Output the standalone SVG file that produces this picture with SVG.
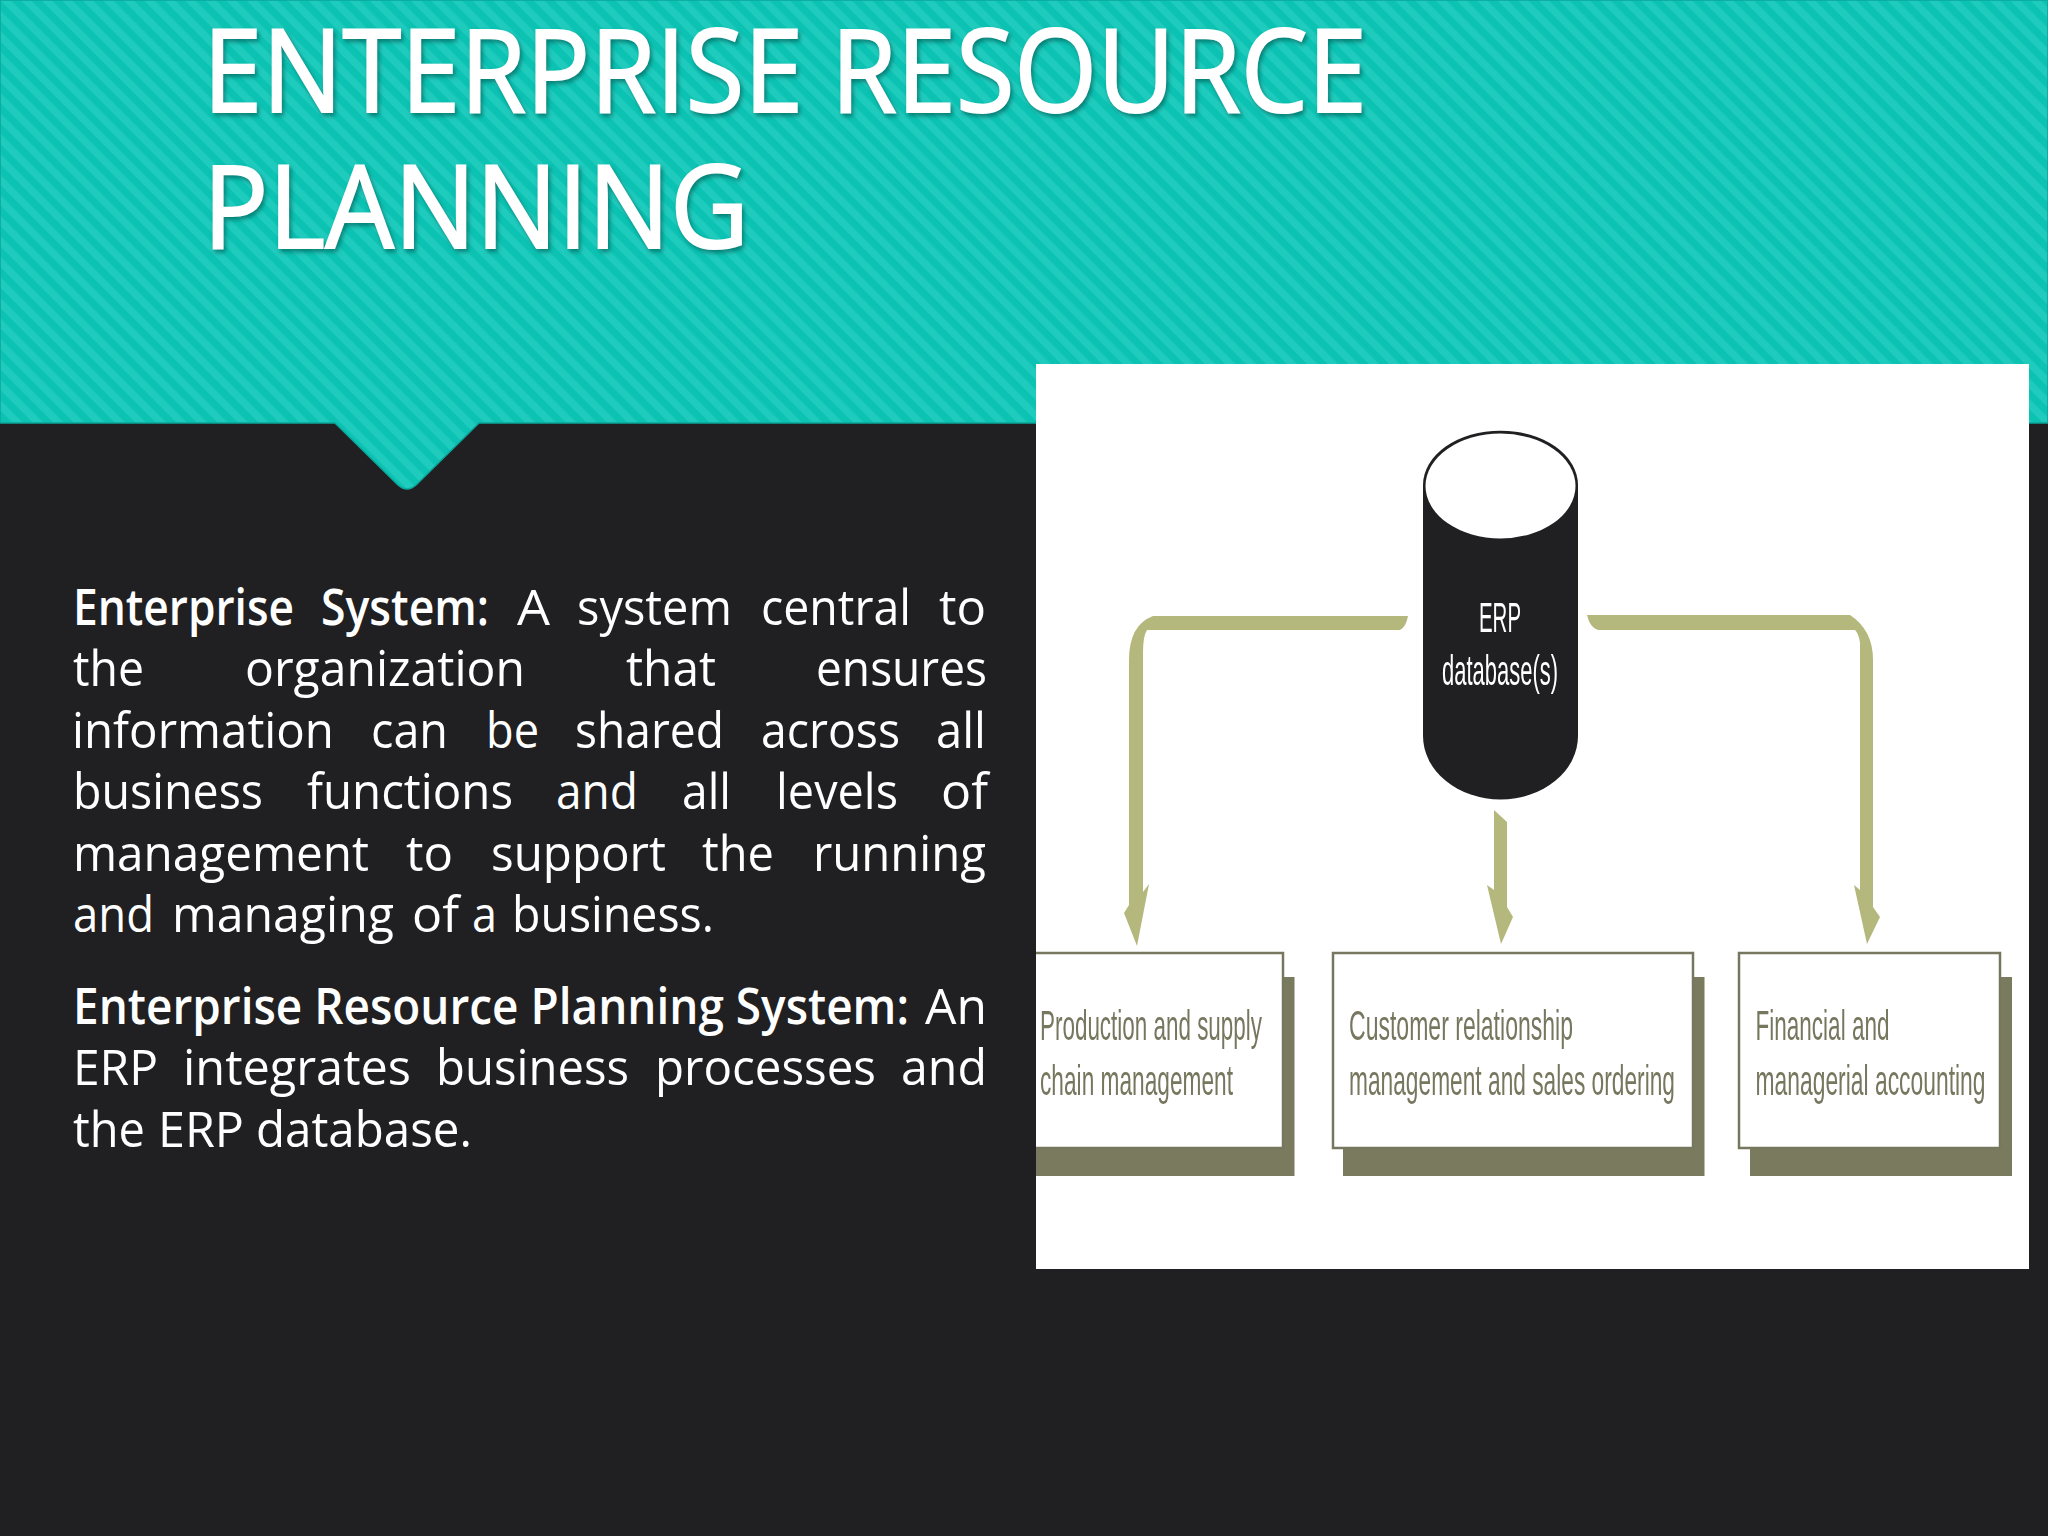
<svg xmlns="http://www.w3.org/2000/svg" width="2048" height="1536" viewBox="0 0 2048 1536">
<style>
.body{font-family:"Open Sans","Noto Sans",sans-serif;font-size:50px;fill:#fff}
.b{font-weight:600}
.title{font-family:"Open Sans","Noto Sans",sans-serif;font-size:116px;fill:#fff;stroke:#fff;stroke-width:2px;filter:drop-shadow(2px 3px 2px rgba(0,70,65,.55))}
.lbl{font-family:"Liberation Sans",Arial,sans-serif;font-size:42px;fill:#77775f;filter:url(#soft)}
.cyl{font-family:"Liberation Sans",Arial,sans-serif;font-size:42px;fill:#fff;filter:url(#soft)}
.box{fill:#fff;stroke:#77775f;stroke-width:2.5}
.shadow{fill:#7a7a5e}
.conn{fill:#b5b87c}
</style>
<defs>
<pattern id="stripes" width="14.5" height="14.5" patternUnits="userSpaceOnUse" patternTransform="rotate(-45)">
<rect width="14.5" height="14.5" fill="#0cc3b3"/>
<rect width="7.25" height="14.5" fill="#1fcbbd"/>
</pattern>
<filter id="soft" x="-5%" y="-20%" width="110%" height="140%"><feGaussianBlur stdDeviation="0.5"/></filter>
</defs>
<rect width="2048" height="1536" fill="#201f22"/>
<path d="M0 0H2048V423H479L416 485Q407 493 398 485L335 423H0Z" fill="url(#stripes)" stroke="#0aa699" stroke-width="1.5"/>
<text class="title" x="203" y="112" textLength="1164" lengthAdjust="spacingAndGlyphs">ENTERPRISE RESOURCE</text>
<text class="title" x="203" y="248" textLength="546" lengthAdjust="spacingAndGlyphs">PLANNING</text>

<g id="body-text" class="body">
<text y="625"><tspan class="b" x="73" textLength="221" lengthAdjust="spacingAndGlyphs">Enterprise</tspan> <tspan class="b" x="321" textLength="168" lengthAdjust="spacingAndGlyphs">System:</tspan> <tspan x="517" textLength="33" lengthAdjust="spacingAndGlyphs">A</tspan> <tspan x="577" textLength="155" lengthAdjust="spacingAndGlyphs">system</tspan> <tspan x="761" textLength="150" lengthAdjust="spacingAndGlyphs">central</tspan> <tspan x="939" textLength="47" lengthAdjust="spacingAndGlyphs">to</tspan></text>
<text y="686.4"><tspan x="73" textLength="71" lengthAdjust="spacingAndGlyphs">the</tspan> <tspan x="245" textLength="280" lengthAdjust="spacingAndGlyphs">organization</tspan> <tspan x="626" textLength="90" lengthAdjust="spacingAndGlyphs">that</tspan> <tspan x="816" textLength="171" lengthAdjust="spacingAndGlyphs">ensures</tspan></text>
<text y="747.8"><tspan x="72" textLength="262" lengthAdjust="spacingAndGlyphs">information</tspan> <tspan x="371" textLength="77" lengthAdjust="spacingAndGlyphs">can</tspan> <tspan x="486" textLength="53" lengthAdjust="spacingAndGlyphs">be</tspan> <tspan x="575" textLength="149" lengthAdjust="spacingAndGlyphs">shared</tspan> <tspan x="761" textLength="139" lengthAdjust="spacingAndGlyphs">across</tspan> <tspan x="936" textLength="50" lengthAdjust="spacingAndGlyphs">all</tspan></text>
<text y="809.2"><tspan x="73" textLength="190" lengthAdjust="spacingAndGlyphs">business</tspan> <tspan x="307" textLength="206" lengthAdjust="spacingAndGlyphs">functions</tspan> <tspan x="556" textLength="82" lengthAdjust="spacingAndGlyphs">and</tspan> <tspan x="682" textLength="49" lengthAdjust="spacingAndGlyphs">all</tspan> <tspan x="776" textLength="122" lengthAdjust="spacingAndGlyphs">levels</tspan> <tspan x="941" textLength="47" lengthAdjust="spacingAndGlyphs">of</tspan></text>
<text y="870.6"><tspan x="73" textLength="296" lengthAdjust="spacingAndGlyphs">management</tspan> <tspan x="406" textLength="47" lengthAdjust="spacingAndGlyphs">to</tspan> <tspan x="491" textLength="175" lengthAdjust="spacingAndGlyphs">support</tspan> <tspan x="702" textLength="72" lengthAdjust="spacingAndGlyphs">the</tspan> <tspan x="813" textLength="173" lengthAdjust="spacingAndGlyphs">running</tspan></text>
<text y="932"><tspan x="73" textLength="81" lengthAdjust="spacingAndGlyphs">and</tspan> <tspan x="172" textLength="222" lengthAdjust="spacingAndGlyphs">managing</tspan> <tspan x="412" textLength="47" lengthAdjust="spacingAndGlyphs">of</tspan> <tspan x="472" textLength="25" lengthAdjust="spacingAndGlyphs">a</tspan> <tspan x="512" textLength="202" lengthAdjust="spacingAndGlyphs">business.</tspan></text>
<text y="1024"><tspan class="b" x="73" textLength="836" lengthAdjust="spacingAndGlyphs">Enterprise Resource Planning System:</tspan> <tspan x="925" textLength="62" lengthAdjust="spacingAndGlyphs">An</tspan></text>
<text y="1085.4"><tspan x="73" textLength="85" lengthAdjust="spacingAndGlyphs">ERP</tspan> <tspan x="183" textLength="228" lengthAdjust="spacingAndGlyphs">integrates</tspan> <tspan x="436" textLength="193" lengthAdjust="spacingAndGlyphs">business</tspan> <tspan x="655" textLength="221" lengthAdjust="spacingAndGlyphs">processes</tspan> <tspan x="901" textLength="86" lengthAdjust="spacingAndGlyphs">and</tspan></text>
<text y="1146.8"><tspan x="73" textLength="72" lengthAdjust="spacingAndGlyphs">the</tspan> <tspan x="158" textLength="86" lengthAdjust="spacingAndGlyphs">ERP</tspan> <tspan x="256" textLength="216" lengthAdjust="spacingAndGlyphs">database.</tspan></text>
</g>

<rect id="panel" x="1036" y="364" width="993" height="905" fill="#fff"/>

<g id="connectors" class="conn">
<path d="M1408 616Q1406 627 1400 630H1147Q1143 636 1143 653V892L1149 884L1137 946L1124 913L1129 905V660Q1129 625 1153 616Z"/>
<path d="M1494 810L1507 822V907L1513 917L1501 944L1487 885L1494 890Z"/>
<path d="M1587 615H1850Q1873 630 1873 660V907L1880 917L1867 944L1854 885L1860 890V643Q1859 634 1855 630H1598Q1590 628 1587 615Z"/>
</g>

<g id="node-database">
<path d="M1423 485A77 54 0 0 1 1578 485V736A77 63 0 0 1 1423 736Z" fill="#201f22"/>
<ellipse cx="1500.5" cy="486" rx="75" ry="52.500" fill="#fff"/>
<text class="cyl" x="1479" y="632" textLength="42" lengthAdjust="spacingAndGlyphs">ERP</text>
<text class="cyl" x="1442" y="685" textLength="116" lengthAdjust="spacingAndGlyphs">database(s)</text>
</g>

<g id="node-production">
<rect class="shadow" x="1036" y="977" width="258.500" height="199"/>
<path class="box" d="M1036 953H1283V1148H1036"/>
<text class="lbl" x="1040" y="1040" textLength="222" lengthAdjust="spacingAndGlyphs">Production and supply</text>
<text class="lbl" x="1040" y="1095" textLength="193" lengthAdjust="spacingAndGlyphs">chain management</text>
</g>
<g id="node-customer">
<rect class="shadow" x="1343" y="977" width="361.500" height="199"/>
<rect class="box" x="1333" y="953" width="360" height="195"/>
<text class="lbl" x="1349" y="1040" textLength="224" lengthAdjust="spacingAndGlyphs">Customer relationship</text>
<text class="lbl" x="1349" y="1095" textLength="326" lengthAdjust="spacingAndGlyphs">management and sales ordering</text>
</g>
<g id="node-financial">
<rect class="shadow" x="1750" y="977" width="262" height="199"/>
<rect class="box" x="1739" y="953" width="261" height="195"/>
<text class="lbl" x="1755.500" y="1040" textLength="134" lengthAdjust="spacingAndGlyphs">Financial and</text>
<text class="lbl" x="1755.500" y="1095" textLength="230" lengthAdjust="spacingAndGlyphs">managerial accounting</text>
</g>
</svg>
